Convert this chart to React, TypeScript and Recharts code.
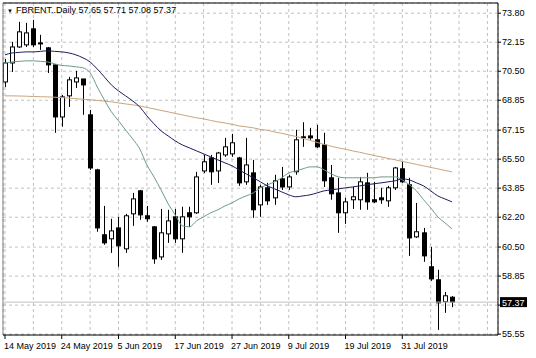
import React from 'react';
import { ComposedChart, Bar, Line, XAxis, YAxis, CartesianGrid, ReferenceLine } from 'recharts';

// daily candles, one per trading day starting 14 May 2019
const opens = [
  69.89, 70.97, 71.88, 72.0, 72.91, 72.11, 71.83, 70.86, 67.9, 69.1, 69.89, 70.06, 68.02, 64.89, 61.2, 60.97,
  61.59, 60.4, 62.39, 63.7, 62.28, 61.65, 59.94, 61.25, 62.22, 60.97, 62.45, 62.45, 64.83, 65.57, 64.83, 65.74,
  65.8, 65.57, 64.21, 64.72, 62.9, 63.87, 63.3, 64.38, 63.92, 64.78, 66.77, 66.82, 66.6, 66.31, 64.44, 63.58,
  62.45, 63.19, 63.19, 64.15, 63.19, 63.3, 63.13, 63.87, 64.95, 64.04, 61.08, 61.31, 59.38, 58.64, 57.39, 57.65,
];
const highs = [
  71.2, 72.17, 73.31, 73.25, 73.42, 72.57, 71.88, 70.9, 69.15, 70.18, 70.52, 70.06, 68.3, 64.95, 62.84, 62.11,
  62.22, 62.39, 63.58, 63.75, 62.84, 61.7, 62.67, 62.62, 62.67, 62.79, 62.79, 64.78, 65.74, 65.74, 65.91, 66.71,
  66.94, 65.63, 66.71, 65.46, 64.04, 64.15, 64.61, 65.06, 64.61, 67.17, 67.6, 67.28, 67.45, 67.0, 65.17, 64.44,
  63.3, 63.92, 64.49, 64.72, 64.21, 63.87, 63.98, 65.06, 65.35, 64.44, 63.01, 61.59, 60.51, 59.21, 57.95, 57.71,
];
const lows = [
  69.6, 70.46, 71.83, 71.88, 71.88, 71.71, 70.4, 67.0, 67.34, 68.47, 69.55, 68.02, 64.89, 61.37, 60.63, 60.17,
  59.38, 60.17, 61.71, 62.05, 61.94, 59.55, 59.77, 60.74, 60.74, 60.17, 61.65, 62.39, 64.7, 64.04, 64.15, 65.63,
  65.63, 63.98, 64.04, 62.16, 62.22, 62.9, 62.9, 63.75, 63.75, 64.61, 66.2, 66.6, 66.14, 63.92, 63.19, 61.31,
  61.82, 62.67, 62.62, 62.62, 63.01, 62.96, 62.79, 63.75, 64.15, 60.0, 61.02, 59.66, 58.58, 55.79, 56.76, 57.08,
];
const closes = [
  70.97, 71.88, 72.74, 72.68, 72.0, 72.06, 70.86, 67.9, 69.04, 70.01, 70.12, 69.72, 65.0, 61.59, 60.74, 61.42,
  60.57, 62.28, 63.24, 62.33, 62.11, 59.83, 61.31, 61.99, 60.97, 62.22, 62.22, 64.49, 65.35, 64.78, 65.85, 66.2,
  66.43, 64.15, 65.17, 62.62, 63.92, 63.13, 64.27, 63.92, 64.49, 66.6, 66.71, 66.71, 66.2, 64.27, 63.53, 62.45,
  63.07, 63.36, 64.21, 63.07, 63.07, 63.19, 63.87, 65.0, 64.21, 61.02, 61.37, 60.0, 58.69, 57.33, 57.73, 57.37,
];

// moving averages
const maFast = [
  70.97, 71.03, 71.06, 71.09, 71.09, 71.06, 71.03, 70.92, 70.83, 70.8, 70.75, 70.69, 70.41, 69.61, 68.87, 68.19,
  67.68, 67.16, 66.65, 66.08, 65.17, 64.49, 63.75, 62.96, 62.33, 61.71, 61.65, 61.99, 62.22, 62.45, 62.62, 62.84,
  63.01, 63.24, 63.41, 63.58, 63.87, 64.04, 64.21, 64.44, 64.72, 64.83, 64.95, 65.06, 65.06, 64.89, 64.66, 64.49,
  64.44, 64.44, 64.44, 64.44, 64.44, 64.49, 64.49, 64.49, 64.32, 64.04, 63.7, 63.19, 62.73, 62.22, 61.88, 61.54,
];
const maSlow = [
  71.43, 71.54, 71.57, 71.6, 71.6, 71.63, 71.66, 71.63, 71.6, 71.54, 71.43, 71.26, 71.03, 70.63, 70.18, 69.72,
  69.38, 69.1, 68.81, 68.47, 67.96, 67.51, 67.11, 66.82, 66.54, 66.31, 66.14, 65.97, 65.8, 65.63, 65.46, 65.29,
  65.12, 64.89, 64.66, 64.44, 64.21, 63.98, 63.81, 63.64, 63.47, 63.36, 63.41, 63.47, 63.58, 63.7, 63.75, 63.81,
  63.87, 63.92, 63.98, 64.04, 64.1, 64.15, 64.21, 64.27, 64.38, 64.32, 64.15, 63.98, 63.7, 63.41, 63.24, 63.07,
];
const maLong = [
  69.1, 69.1, 69.09, 69.08, 69.06, 69.05, 69.04, 69.02, 69.0, 68.97, 68.94, 68.91, 68.88, 68.84, 68.8, 68.76,
  68.7, 68.64, 68.59, 68.53, 68.44, 68.36, 68.27, 68.19, 68.1, 68.02, 67.93, 67.85, 67.79, 67.7, 67.62, 67.56,
  67.48, 67.39, 67.34, 67.28, 67.19, 67.14, 67.05, 66.97, 66.88, 66.79, 66.68, 66.57, 66.45, 66.34, 66.23, 66.14,
  66.06, 65.97, 65.89, 65.8, 65.71, 65.63, 65.54, 65.46, 65.37, 65.29, 65.2, 65.12, 65.03, 64.95, 64.86, 64.78,
];

const dateLabels = ['14 May 2019', '24 May 2019', '5 Jun 2019', '17 Jun 2019', '27 Jun 2019', '9 Jul 2019', '19 Jul 2019', '31 Jul 2019'];
const priceTicks = [55.55, 57.2, 58.85, 60.5, 62.2, 63.85, 65.5, 67.15, 68.85, 70.5, 72.15, 73.8];
const dayTicks = [0, 4, 8, 12, 16, 20, 24, 28, 32, 36, 40, 44, 48, 52, 56, 60, 64, 68];

const data = opens.map((o, i) => ({
  i,
  open: o,
  high: highs[i],
  low: lows[i],
  close: closes[i],
  maFast: maFast[i],
  maSlow: maSlow[i],
  maLong: maLong[i],
}));

const last = data[data.length - 1];
const FONT = "'Liberation Sans', Arial, sans-serif";
const X_DOMAIN = [-0.28, 69.49];
const Y_DOMAIN = [55.5, 74.38];

const Candle = (props: any) => {
  const { x, y, width, height, payload } = props;
  const { open, close, high, low } = payload;
  const top = Math.min(y, y + height);
  const h = Math.abs(height);
  const ppu = h / (high - low || 1);
  const cx = Math.round(x + width / 2) + 0.5;
  const bt = top + (high - Math.max(open, close)) * ppu;
  const bb = top + (high - Math.min(open, close)) * ppu;
  const up = close >= open;
  return (
    <g>
      <line x1={cx} x2={cx} y1={top} y2={top + h} stroke="#000" strokeWidth={1} />
      <rect x={cx - 2} y={bt} width={4} height={Math.max(bb - bt, 1)} fill={up ? '#fff' : '#000'} stroke="#000" strokeWidth={1} />
    </g>
  );
};

const DateTick = ({ x, y, payload }: any) => {
  const idx = payload.value / 8;
  if (!Number.isInteger(idx) || !dateLabels[idx]) return null;
  return (
    <g>
      <line x1={x} x2={x} y1={y} y2={y + 4} stroke="#000" />
      <text x={x - 1} y={y + 14} fontSize={9} fontFamily={FONT} fill="#000" textAnchor="start">
        {dateLabels[idx]}
      </text>
    </g>
  );
};

// the price tag covers the tick label right under it, as in the terminal
const priceLabel = (v: number) => (Math.abs(v - last.close) < 0.3 ? '' : v.toFixed(2));

const PriceTag = (props: any) => {
  const vb = props.viewBox;
  const x = vb.x + vb.width + 2;
  const y = vb.y;
  return (
    <g>
      <rect x={x} y={y - 5} width={27} height={10} fill="#000" />
      <text x={x + 2} y={y + 3.5} fontSize={9} fontFamily={FONT} fill="#fff">
        {last.close.toFixed(2)}
      </text>
    </g>
  );
};

export default function App() {
  return (
    <div style={{ position: 'absolute', left: 0, top: 0, width: 536, height: 358, background: '#fff' }}>
      <ComposedChart width={536} height={358} data={data} margin={{ top: 3, right: 0, bottom: 0, left: 3 }}>
        <CartesianGrid stroke="#c0c0c0" strokeDasharray="3 3" />
        <XAxis
          dataKey="i"
          type="number"
          domain={X_DOMAIN}
          allowDataOverflow
          ticks={dayTicks}
          interval={0}
          height={23}
          tickSize={0}
          tickMargin={0}
          tickLine={false}
          axisLine={{ stroke: '#000' }}
          tick={<DateTick />}
        />
        <YAxis
          orientation="right"
          width={38}
          domain={Y_DOMAIN}
          allowDataOverflow
          ticks={priceTicks}
          interval={0}
          tickSize={3}
          tickMargin={1}
          tickLine={{ stroke: '#000' }}
          axisLine={{ stroke: '#000' }}
          tick={{ fontSize: 9, fill: '#000', fontFamily: FONT }}
          tickFormatter={priceLabel}
        />
        <ReferenceLine y={Y_DOMAIN[1]} stroke="#000" />
        <ReferenceLine x={X_DOMAIN[0]} stroke="#808080" />
        <ReferenceLine y={last.close} stroke="#c0c0c0" label={PriceTag} />
        <Line type="monotone" dataKey="maLong" stroke="#c9a57e" strokeWidth={1} dot={false} isAnimationActive={false} />
        <Line type="monotone" dataKey="maFast" stroke="#6a9c8c" strokeWidth={1} dot={false} isAnimationActive={false} />
        <Line type="monotone" dataKey="maSlow" stroke="#1c1c5c" strokeWidth={1} dot={false} isAnimationActive={false} />
        <Bar dataKey={(d: any) => [d.low, d.high]} barSize={5} shape={Candle} isAnimationActive={false} />
      </ComposedChart>
      <div
        style={{
          position: 'absolute',
          left: 7,
          top: 4,
          fontFamily: FONT,
          fontSize: 9,
          color: '#000',
          whiteSpace: 'nowrap',
          lineHeight: '12px',
        }}
      >
        <span style={{ fontSize: 6, marginRight: 3 }}>▼</span>
        FBRENT..Daily {last.open.toFixed(2)} {last.high.toFixed(2)} {last.low.toFixed(2)} {last.close.toFixed(2)}
      </div>
    </div>
  );
}
